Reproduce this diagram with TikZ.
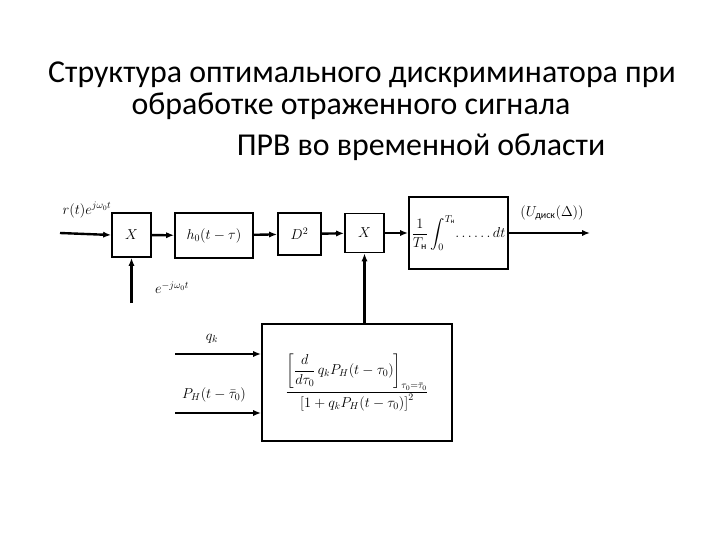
\documentclass[tikz,border=0pt]{standalone}
\usepackage{amsmath}
\usepackage{fontspec}
\setmainfont{Carlito}
\usetikzlibrary{arrows.meta, positioning, calc}

\begin{document}
\begin{tikzpicture}[x=1bp, y=-1bp,
        every node/.style={font=\Large},
        blk/.style={rectangle, draw=black, line width=1.8pt, inner sep=2pt, align=center},
        arr/.style={-{Latex[length=2.8mm,width=2.2mm]}, line width=2.4pt},
        lbl/.style={inner sep=1pt, font=\Large},
        ttl/.style={font=\fontsize{32}{38}\selectfont}
    ]
        \useasboundingbox (0,0) rectangle (720,540);
        % title
        \node[ttl] (t1) at (362,75) {Структура оптимального дискриминатора при};
        \node[ttl] (t2) at (351,106) {обработке отраженного сигнала};
        \node[ttl] (t3) at (421,147) {ПРВ во временной области};
        % chain
        \node[blk, minimum width=39bp, minimum height=44bp] (mul1) at (131.5,235) {$X$};
        \node[blk, minimum width=78bp, minimum height=45bp] (filt) at (214,235.5) {$h_0(t-\tau)$};
        \node[blk, minimum width=43bp, minimum height=42bp] (sq)   at (299.5,234) {$D^2$};
        \node[blk, minimum width=39bp, minimum height=39bp] (mul2) at (364.5,233) {$X$};
        \node[blk, minimum width=99bp, minimum height=72bp] (intg) at (458.5,233)
            {$\dfrac{1}{T_{\text{н}}}\displaystyle\int_0^{T_{\text{н}}}\!\ldots\ldots dt$};
        \node[blk, minimum width=190bp, minimum height=117bp] (form) at (357,382.5)
            {$\dfrac{\left[\dfrac{d}{d\tau_0}\,q_k P_H(t-\tau_0)\right]_{\tau_0=\bar\tau_0}}
            {\left[1+q_k P_H(t-\tau_0)\right]^2}$};
        \coordinate (in)   at (60,233);
        \coordinate (out)  at (590,233);
        \coordinate (ref)  at (131.5,303);
        \coordinate (qin)  at (175,354);
        \coordinate (pin)  at (175,413);
        \draw[arr] (in) -- (mul1.west);
        \draw[arr] (mul1) -- (filt);
        \draw[arr] (filt) -- (sq);
        \draw[arr] (sq) -- (mul2);
        \draw[arr] (mul2) -- (intg);
        \draw[arr] (intg) -- (out);
        \draw[arr] (ref) -- (mul1.south);
        \draw[arr] (mul2.south |- form.north) -- (mul2.south);
        \draw[arr] (qin) -- (qin -| form.west);
        \draw[arr] (pin) -- (pin -| form.west);
        % labels
        \node[lbl] (lin)  at (87,210)  {$r(t)e^{j\omega_0 t}$};
        \node[lbl] (lref) at (172,288) {$e^{-j\omega_0 t}$};
        \node[lbl] (lout) at (552,213) {$\left(U_{\text{диск}}(\Delta)\right)$};
        \node[lbl] (lq)   at (212,339) {$q_k$};
        \node[lbl] (lp)   at (214,395) {$P_H(t-\bar\tau_0)$};
    \end{tikzpicture}
\end{document}
